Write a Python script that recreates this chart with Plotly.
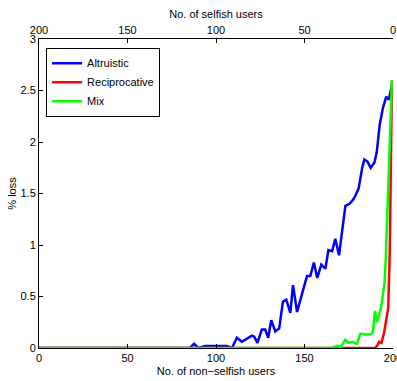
import plotly.graph_objects as go

# Altruistic (blue)
alt_x = [0, 85.3, 87.6, 90, 93.8, 98.4, 106.1, 109, 111.8, 114.6, 117.4, 120.3, 121.6, 123.4,
         125.9, 127.8, 129.5, 131.2, 133.5, 135.7, 137.8, 139.7, 142, 143.5, 145.8, 151.4,
         153.3, 155.3, 157.2, 159.5, 161.8, 163.5, 165.6, 167.4, 169.5, 173.1, 175.4, 177.5,
         178.8, 180.6, 182.6, 183.8, 185.6, 187.4, 189.5, 190.8, 192.5, 194.3, 196.2, 197.6, 199.4]
alt_y = [0, 0, 0.04, 0, 0.02, 0.02, 0.02, 0, 0.10, 0.06, 0.09, 0.12, 0.11, 0.05,
         0.18, 0.18, 0.10, 0.27, 0.16, 0.19, 0.45, 0.47, 0.34, 0.61, 0.35, 0.70,
         0.70, 0.83, 0.68, 0.81, 0.77, 0.95, 0.94, 1.06, 0.90, 1.38, 1.40, 1.44,
         1.48, 1.55, 1.75, 1.83, 1.81, 1.75, 1.80, 1.90, 2.17, 2.33, 2.44, 2.41, 2.55]

# Reciprocative (red)
rec_x = [0, 190.1, 191.3, 192.2, 193.5, 195.0, 197.3, 198.2, 199.4]
rec_y = [0, 0, 0.03, 0.06, 0.05, 0.15, 0.39, 0.95, 2.60]

# Mix (green)
mix_x = [0, 165.6, 168.4, 170.5, 173.1, 175.1, 176.9, 179.6, 181.6, 184.4, 187.3,
         188.6, 189.8, 191.0, 193.2, 195.2, 195.9, 199.4]
mix_y = [0, 0, 0.02, 0.01, 0.08, 0.05, 0.06, 0.04, 0.14, 0.13, 0.13,
         0.15, 0.36, 0.25, 0.39, 0.63, 0.86, 2.60]

x_ticks = [0, 50, 100, 150, 200]
top_ticks = [200, 150, 100, 50, 0]
y_ticks = [0, 0.5, 1, 1.5, 2, 2.5, 3]
y_labels = ["0", "0.5", "1", "1.5", "2", "2.5", "3"]

FONT = "Liberation Sans, Arial, Helvetica, sans-serif"

fig = go.Figure()
fig.add_trace(go.Scatter(x=alt_x, y=alt_y, mode="lines", name="Altruistic",
                         line=dict(color="#0000FF", width=2.5)))
fig.add_trace(go.Scatter(x=rec_x, y=rec_y, mode="lines", name="Reciprocative",
                         line=dict(color="#FF0000", width=2.5)))
fig.add_trace(go.Scatter(x=mix_x, y=mix_y, mode="lines", name="Mix",
                         line=dict(color="#00FF00", width=2.5)))
# carrier trace (draws nothing) so the top "selfish users" axis is rendered
fig.add_trace(go.Scatter(x=top_ticks, y=[0] * len(top_ticks), xaxis="x2", mode="none",
                         showlegend=False, hoverinfo="skip"))

axis_common = dict(showline=True, linecolor="black", linewidth=1, ticks="inside",
                   ticklen=4, tickwidth=1, tickcolor="black", showgrid=False,
                   zeroline=False, ticklabeloverflow="allow", automargin=False,
                   tickfont=dict(size=11, color="black", family=FONT))

fig.update_layout(
    width=397, height=381,
    margin=dict(l=39, r=4, t=39, b=33),
    paper_bgcolor="white", plot_bgcolor="white",
    font=dict(family=FONT, size=11, color="black"),
    showlegend=True,
    legend=dict(x=0.02, y=0.972, xanchor="left", yanchor="top",
                bgcolor="white", bordercolor="black", borderwidth=1,
                font=dict(size=11, family=FONT, color="black"),
                tracegroupgap=0, itemwidth=30),
    xaxis=dict(range=[0, 200], tickvals=x_ticks, ticktext=[str(v) for v in x_ticks],
               title=dict(text="No. of non\u2212selfish users", font=dict(size=11), standoff=4),
               **axis_common),
    xaxis2=dict(range=[200, 0], overlaying="x", side="top", anchor="y",
                tickvals=top_ticks, ticktext=[str(v) for v in top_ticks],
                title=dict(text="No. of selfish users", font=dict(size=11), standoff=2),
                **axis_common),
    yaxis=dict(range=[0, 3], tickvals=y_ticks, ticktext=y_labels,
               title=dict(text="% loss", font=dict(size=11), standoff=1),
               **axis_common),
)

fig.write_html("out.html")
